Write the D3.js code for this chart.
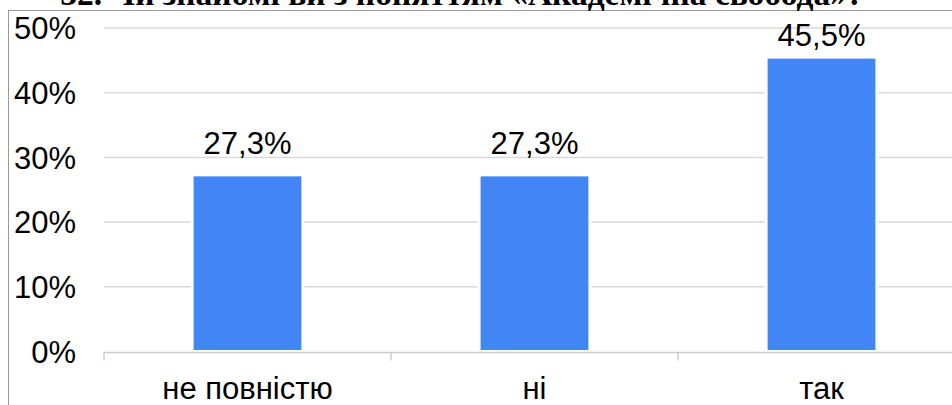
<!DOCTYPE html>
<html>
<head>
<meta charset="utf-8">
<script src="https://cdn.jsdelivr.net/npm/d3@7/dist/d3.min.js"></script>
<style>
  html, body { margin: 0; padding: 0; background: #fff; overflow: hidden; }
  svg { display: block; }
</style>
</head>
<body>
<svg id="chart" width="952" height="405"></svg>
<script>
const titleText = "32. Чи знайомі ви з поняттям «Академічна свобода»?";
const categories = ["не повністю", "ні", "так"];
const values = [27.3, 27.3, 45.5];
const valueLabels = ["27,3%", "27,3%", "45,5%"];
const yTicks = [0, 10, 20, 30, 40, 50];

const svg = d3.select("#chart");

// frame
svg.append("rect").attr("x", 8.5).attr("y", 10.5).attr("width", 1000).attr("height", 1000)
  .attr("fill", "#fff").attr("stroke", "#9a9a9a").attr("stroke-width", 1);

// title (cut off at top, as in the reference)
svg.append("text").attr("x", 462).attr("y", 5).attr("text-anchor", "middle")
  .attr("font-family", "'Liberation Serif', 'Times New Roman', serif")
  .attr("font-weight", "bold").attr("font-size", 33.5).attr("fill", "#000")
  .text(titleText);

const left = 104, right = 965;
const y = d3.scaleLinear().domain([0, 50]).range([351.5, 28]);
const x0 = d3.scaleBand().domain(categories).range([left, right]).padding(0);
const barFrac = 0.386;

// gridlines
svg.append("g").selectAll("line").data(yTicks.filter(t => t > 0)).join("line")
  .attr("x1", left).attr("x2", right)
  .attr("y1", d => y(d)).attr("y2", d => y(d))
  .attr("stroke", "#d9d9d9").attr("stroke-width", 1.5);

// y tick labels
svg.append("g").selectAll("text").data(yTicks).join("text")
  .attr("x", 76).attr("y", d => y(d)).attr("dy", "0.36em")
  .attr("text-anchor", "end")
  .attr("font-family", "'Liberation Sans', Arial, sans-serif")
  .attr("font-size", 31).attr("fill", "#000")
  .text(d => d + "%");

// bars
const data = categories.map((c, i) => ({ c, v: values[i], label: valueLabels[i] }));
svg.append("g").selectAll("rect").data(data).join("rect")
  .attr("x", d => x0(d.c) + x0.bandwidth() * (1 - barFrac) / 2)
  .attr("width", x0.bandwidth() * barFrac)
  .attr("y", d => y(d.v))
  .attr("height", d => y(0) - y(d.v))
  .attr("fill", "#4285f4").attr("stroke", "#fff").attr("stroke-width", 3);

// axis baseline + ticks
svg.append("line").attr("x1", left).attr("x2", right).attr("y1", y(0) + 1).attr("y2", y(0) + 1)
  .attr("stroke", "#cccccc").attr("stroke-width", 1.5);
svg.append("g").selectAll("line").data(categories).join("line")
  .attr("x1", d => x0(d)).attr("x2", d => x0(d))
  .attr("y1", y(0) + 1).attr("y2", y(0) + 9)
  .attr("stroke", "#cccccc").attr("stroke-width", 1.5);

// value labels (kept inside plot area)
svg.append("g").selectAll("text").data(data).join("text")
  .attr("x", d => x0(d.c) + x0.bandwidth() / 2)
  .attr("y", d => Math.max(y(d.v) - 20.5, y(50) + 18))
  .attr("text-anchor", "middle")
  .attr("font-family", "'Liberation Sans', Arial, sans-serif")
  .attr("font-size", 31).attr("fill", "#000")
  .text(d => d.label);

// category labels
svg.append("g").selectAll("text").data(categories).join("text")
  .attr("x", d => x0(d) + x0.bandwidth() / 2)
  .attr("y", 399)
  .attr("text-anchor", "middle")
  .attr("font-family", "'Liberation Sans', Arial, sans-serif")
  .attr("font-size", 31).attr("fill", "#000")
  .text(d => d);
</script>
</body>
</html>
